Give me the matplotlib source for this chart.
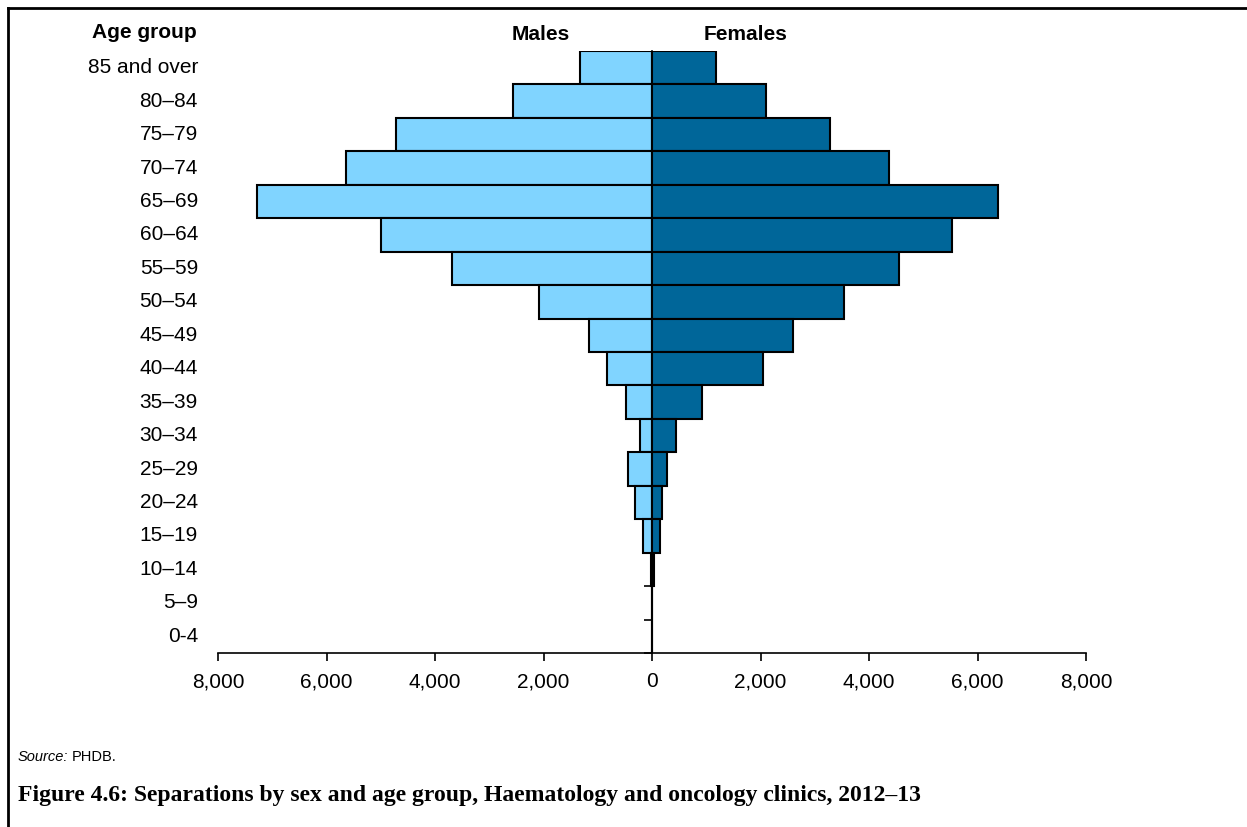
import matplotlib
matplotlib.use("Agg")
import matplotlib.pyplot as plt
from matplotlib.lines import Line2D
import matplotlib.transforms as mtransforms
import numpy as np

plt.rcParams['font.family'] = ['Liberation Sans', 'DejaVu Sans']

age_groups = ['85 and over', '80–84', '75–79', '70–74', '65–69', '60–64', '55–59',
              '50–54', '45–49', '40–44', '35–39', '30–34', '25–29', '20–24',
              '15–19', '10–14', '5–9', '0-4']
males = [1330, 2560, 4720, 5640, 7280, 5000, 3690, 2080, 1160, 830, 480, 220,
         440, 310, 170, 25, 5, 0]
females = [1180, 2100, 3280, 4370, 6380, 5530, 4550, 3540, 2600, 2050, 920, 440,
           280, 190, 150, 35, 3, 0]
xticks = [-8000, -6000, -4000, -2000, 0, 2000, 4000, 6000, 8000]
xtick_labels = ['8,000', '6,000', '4,000', '2,000', '0', '2,000', '4,000', '6,000', '8,000']

male_color = '#80D4FF'
female_color = '#006699'
FS = 15

fig = plt.figure(figsize=(12.47, 8.27), dpi=100)
ax = fig.add_axes([218/1247, 1-653/827, (1086-218)/1247, 602/827])

n = len(age_groups)
y = np.arange(n)[::-1]  # top category at highest y
ax.barh(y, [-m for m in males], height=1.0, color=male_color, edgecolor='black', linewidth=1.5)
ax.barh(y, females, height=1.0, color=female_color, edgecolor='black', linewidth=1.5)

ax.set_xlim(-8000, 8000)
ax.set_ylim(-0.5, n - 0.5)
ax.set_xticks(xticks)
ax.set_xticklabels(xtick_labels, fontsize=FS)
ax.tick_params(axis='x', length=6, width=1.2, pad=8, direction='out')

for s in ['top', 'right']:
    ax.spines[s].set_visible(False)
ax.spines['left'].set_position(('data', 0))
ax.spines['left'].set_linewidth(1.2)
ax.spines['bottom'].set_linewidth(1.2)

ax.set_yticks(np.arange(n) - 0.5)
ax.set_yticklabels([])
ax.tick_params(axis='y', length=6, width=1.2, direction='out')

trans = mtransforms.blended_transform_factory(fig.transFigure, ax.transData)
for label, yy in zip(age_groups, y):
    ax.text(198/1247, yy, label, transform=trans, ha='right', va='center', fontsize=FS)

fig.text(197/1247, 1-32/827, 'Age group', ha='right', va='center', fontsize=FS, fontweight='bold')
fig.text(541/1247, 1-35/827, 'Males', ha='center', va='center', fontsize=FS, fontweight='bold')
fig.text(746/1247, 1-35/827, 'Females', ha='center', va='center', fontsize=FS, fontweight='bold')

src = fig.text(18/1247, 1-757/827, 'Source:', ha='left', va='center', fontsize=10.5, style='italic')
fig.canvas.draw()
bb = src.get_window_extent(renderer=fig.canvas.get_renderer())
fig.text((bb.x1 + 3)/1247, 1-757/827, 'PHDB.', ha='left', va='center', fontsize=10.5)

fig.text(18/1247, 1-795/827, 'Figure 4.6: Separations by sex and age group, Haematology and oncology clinics, 2012–13',
         ha='left', va='center', fontsize=17, fontweight='bold', family=['Liberation Serif', 'DejaVu Serif'])

fig.add_artist(Line2D([7.5/1247, 7.5/1247], [0, 1-8/827], transform=fig.transFigure, color='black', linewidth=2))
fig.add_artist(Line2D([7.5/1247, 1], [1-8/827, 1-8/827], transform=fig.transFigure, color='black', linewidth=2))

fig.savefig('out.png', dpi=100)
